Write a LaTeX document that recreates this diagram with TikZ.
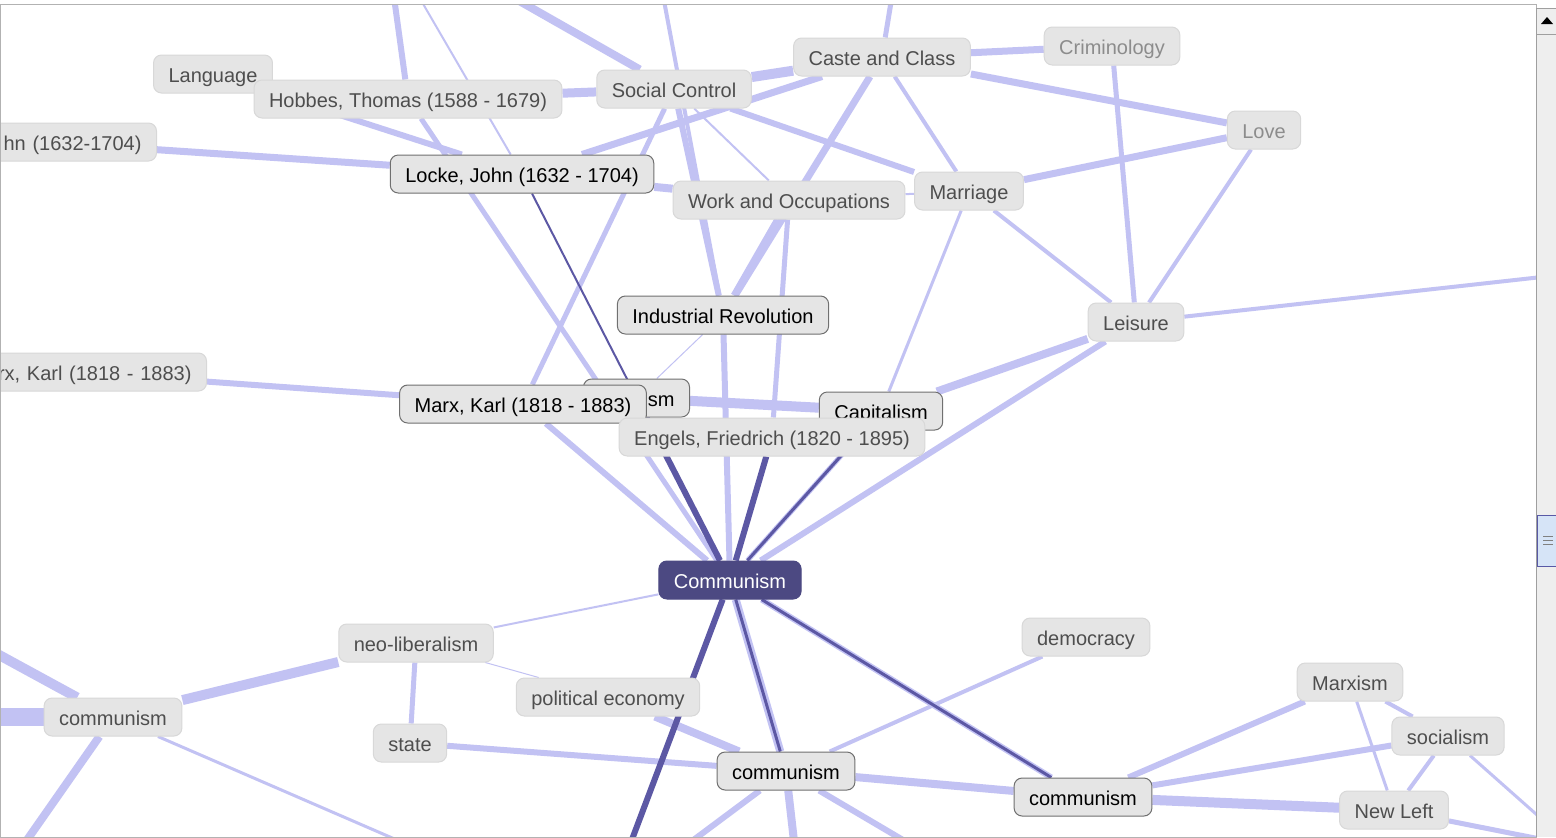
\documentclass[tikz,border=0pt]{standalone}
\usepackage{fontspec}
\setmainfont{Liberation Sans}
\usetikzlibrary{backgrounds}
\definecolor{lavc}{RGB}{194,194,243}
\definecolor{drkc}{RGB}{92,88,164}
\definecolor{hubc}{RGB}{76,73,130}
\definecolor{boxc}{RGB}{229,229,229}
\definecolor{rimc}{RGB}{216,216,216}
\definecolor{selc}{RGB}{112,112,112}
\definecolor{txtc}{RGB}{78,78,78}
\definecolor{scrc}{RGB}{238,238,238}
\definecolor{thumbc}{RGB}{214,228,247}
\tikzset{
  term/.style={rounded corners=4pt, fill=boxc, draw=rimc, line width=0.5pt, text=txtc,
    minimum height=19pt, inner xsep=7.5pt, inner ysep=2pt, text height=8pt, text depth=0pt},
  sel/.style={term, draw=selc, text=black},
  hub/.style={term, fill=hubc, draw=hubc, text=white},
  faint/.style={term, text=txtc!65},
  lav/.style={draw=lavc, line width=#1},
  drk/.style={draw=drkc, line width=#1},
}

\begin{document}
\begin{tikzpicture}[x=0.5pt, y=-0.5pt, font=\fontsize{10}{12}\selectfont]
	\useasboundingbox (0,0) rectangle (1556,837);
	\begin{scope}
		\clip (0,5) rectangle (1536,837);
		% top half
		\node[term] (lang) at (213,74) {Language};
		\node[term] (hobbes) at (408,99) {Hobbes, Thomas (1588 - 1679)};
		\node[term] (scontrol) at (674,89) {Social Control};
		\node[term] (caste) at (882,57) {Caste and Class};
		\node[faint] (crim) at (1112,46) {Criminology};
		\node[faint] (love) at (1264,130) {Love};
		\node[term, anchor=east, text width=100pt, align=right] (lockeL) at (157,142) {hn (1632-1704)};
		\node[sel] (locke) at (522,174) {Locke, John (1632 - 1704)};
		\node[term] (work) at (789,200) {Work and Occupations};
		\node[term] (marr) at (969,191) {Marriage};
		\node[sel] (indrev) at (723,315) {Industrial Revolution};
		\node[term] (leis) at (1136,322) {Leisure};
		\node[term, anchor=east, text width=120pt, align=right] (marxL) at (207,372) {rx, Karl (1818 - 1883)};
		\node[sel, anchor=east, text width=38pt, align=right] (ism) at (690,398) {sm};
		\node[sel] (marx) at (523,404) {Marx, Karl (1818 - 1883)};
		\node[sel] (cap) at (881,411) {Capitalism};
		\node[term] (engels) at (772,437) {Engels, Friedrich (1820 - 1895)};
		\node[hub] (comm) at (730,580) {Communism};
		% bottom half
		\node[term] (neolib) at (416,643) {neo-liberalism};
		\node[term] (poleco) at (608,697) {political economy};
		\node[term] (commL) at (113,717) {communism};
		\node[term] (state) at (410,743) {state};
		\node[term] (demo) at (1086,637) {democracy};
		\node[sel] (commM) at (786,771) {communism};
		\node[term] (marxism) at (1350,682) {Marxism};
		\node[term] (socl) at (1448,736) {socialism};
		\node[sel] (commR) at (1083,797) {communism};
		\node[term] (newleft) at (1394,810) {New Left};

		% loose ends outside the window
		\coordinate (tA) at (393,-10);
		\coordinate (tB) at (415,-10);
		\coordinate (tC) at (500,-10);
		\coordinate (tD) at (662,-10);
		\coordinate (tE) at (893,-10);
		\coordinate (rA) at (1560,275);
		\coordinate (rB) at (1545,822);
		\coordinate (rC) at (1545,840);
		\coordinate (lA) at (-10,717);
		\coordinate (lB) at (-10,650);
		\coordinate (bA) at (20,850);
		\coordinate (bB) at (420,850);
		\coordinate (bC) at (628,850);
		\coordinate (bD) at (795,850);
		\coordinate (bE) at (680,850);
		\coordinate (bF) at (920,850);
	\end{scope}

	\begin{scope}[on background layer]
		\fill[white] (0,0) rectangle (1556,837);
		\clip (0,5) rectangle (1536,837);
		\draw[lav=3pt] (tA) -- (hobbes);
		\draw[lav=1pt] (tB) -- (locke);
		\draw[lav=4pt] (tC) -- (scontrol);
		\draw[lav=2pt] (tD) -- (indrev);
		\draw[lav=2.5pt] (tE) -- (caste);
		\draw[lav=2pt] (leis) -- (rA);
		\draw[lav=1.5pt] (socl) -- (rB);
		\draw[lav=2.5pt] (newleft) -- (rC);
		\draw[lav=9pt] (commL) -- (lA);
		\draw[lav=5pt] (commL) -- (lB);
		\draw[lav=4pt] (commL) -- (bA);
		\draw[lav=1.5pt] (commL) -- (bB);
		\draw[lav=4pt] (commM) -- (bD);
		\draw[lav=3pt] (commM) -- (bE);
		\draw[lav=3pt] (commM) -- (bF);

		\draw[lav=1pt] (lang) -- (hobbes);
		\draw[lav=3pt] (lang) -- (locke);
		\draw[lav=4.5pt] (hobbes) -- (scontrol);
		\draw[lav=3.5pt] (lockeL) -- (locke);
		\draw[lav=4pt] (locke) -- (work);
		\draw[lav=3.5pt] (locke) -- (caste);
		\draw[lav=5pt] (scontrol) -- (caste);
		\draw[lav=3.5pt] (caste) -- (crim);
		\draw[lav=3.5pt] (caste) -- (love);
		\draw[lav=2pt] (caste) -- (marr);
		\draw[lav=3pt] (scontrol) -- (marr);
		\draw[lav=2.5pt] (crim) -- (leis);
		\draw[lav=3.5pt] (love) -- (marr);
		\draw[lav=2pt] (love) -- (leis);
		\draw[lav=2pt] (marr) -- (leis);
		\draw[lav=1pt] (work) -- (marr);
		\draw[lav=1.5pt] (marr) -- (cap);
		\draw[lav=4pt] (leis) -- (cap);
		\draw[lav=3pt] (leis) -- (comm);
		\draw[lav=1pt] (scontrol) -- (work);
		\draw[lav=3pt] (scontrol) -- (indrev);
		\draw[lav=3.5pt] (work) -- (indrev);
		\draw[lav=2.5pt] (work) -- (engels);
		\draw[lav=3.5pt] (caste) -- (indrev);
		\draw[lav=2.5pt] (scontrol) -- (marx);
		\draw[lav=2.5pt] (hobbes) -- (comm);
		\draw[lav=3pt] (marxL) -- (marx);
		\draw[lav=3pt] (marx) -- (comm);
		\draw[lav=3pt] (indrev) -- (comm);
		\draw[lav=0.5pt] (indrev) -- (ism);
		\draw[lav=5pt] (ism) -- (cap);
		\draw[lav=2.5pt] (cap) -- (comm);
		\draw[lav=1pt] (comm) -- (neolib);
		\draw[lav=5pt] (neolib) -- (commL);
		\draw[lav=2.5pt] (neolib) -- (state);
		\draw[lav=0.5pt] (neolib) -- (poleco);
		\draw[lav=3pt] (state) -- (commM);
		\draw[lav=4pt] (poleco) -- (commM);
		\draw[lav=2pt] (demo) -- (commM);
		\draw[lav=4pt] (commM) -- (commR);
		\draw[lav=3pt] (commR) -- (marxism);
		\draw[lav=3pt] (commR) -- (socl);
		\draw[lav=5pt] (commR) -- (newleft);
		\draw[lav=2pt] (marxism) -- (socl);
		\draw[lav=1.5pt] (marxism) -- (newleft);
		\draw[lav=2pt] (socl) -- (newleft);
		\draw[lav=4pt] (comm) -- (commM);
		\draw[lav=3pt] (comm) -- (commR);

		\draw[drk=1pt] (locke) -- (comm);
		\draw[drk=3pt] (ism) -- (comm);
		\draw[drk=3pt] (engels) -- (comm);
		\draw[drk=1.5pt] (cap) -- (comm);
		\draw[drk=3pt] (comm) -- (bC);
		\draw[drk=1.5pt] (comm) -- (commM);
		\draw[drk=1.5pt] (comm) -- (commR);
	\end{scope}

	% window frame and scroll bar
	\draw[gray!60] (0.5,4) rectangle (1536,837);
	\fill[scrc] (1536,8) rectangle (1556,837);
	\draw[gray!75] (1536,8) -- (1536,837);
	\draw[gray!75] (1536,8) -- (1556,8);
	\draw[gray!75] (1537,34) -- (1556,34);
	\fill[black] (1541,24) -- (1553,24) -- (1547,17) -- cycle;
	\draw[blue!30!gray, fill=thumbc] (1537,515) rectangle (1556,566);
	\draw[gray] (1543,536) -- (1553,536) (1543,540) -- (1553,540) (1543,544) -- (1553,544);
\end{tikzpicture}
\end{document}
